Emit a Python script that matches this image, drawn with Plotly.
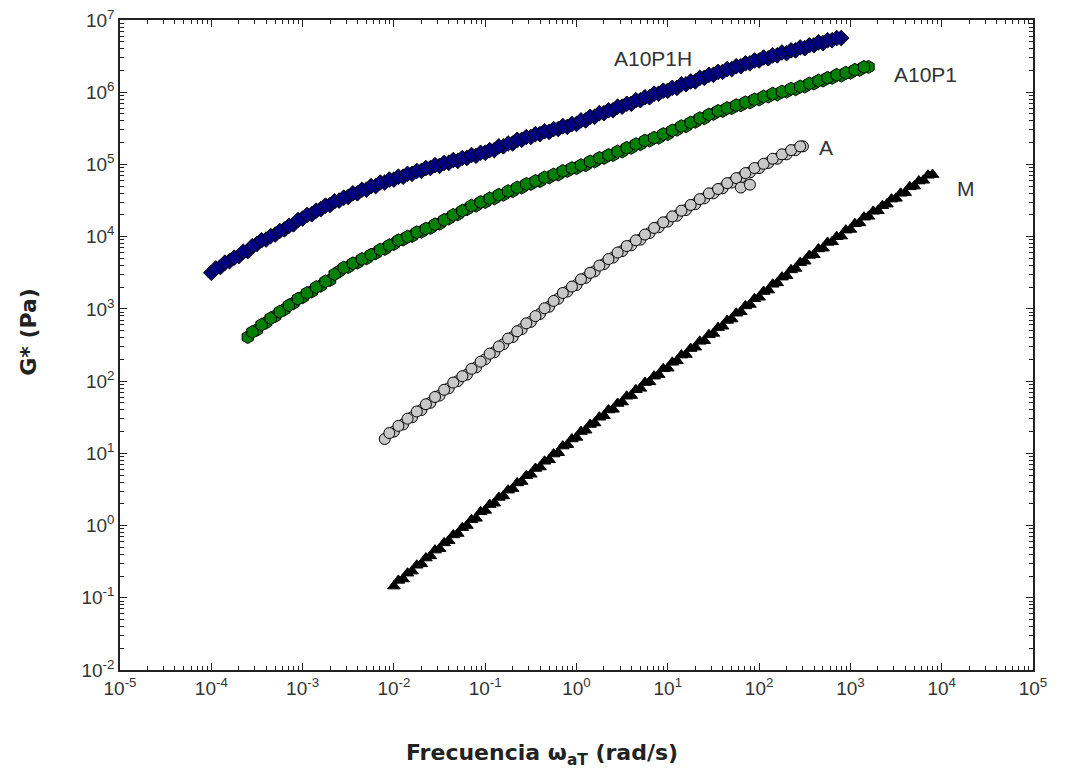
import math
import plotly.graph_objects as go

# ---------------- data ----------------
# A10P1H (blue) - two interleaved measurement runs
x_a10p1h = [1.00e-4, 1.26e-4, 1.58e-4, 2.00e-4, 2.51e-4, 3.16e-4, 3.98e-4, 5.01e-4, 6.31e-4, 7.94e-4,
            1.00e-3, 1.26e-3, 1.58e-3, 2.00e-3, 2.51e-3, 3.16e-3, 3.98e-3, 5.01e-3, 6.31e-3, 7.94e-3,
            1.00e-2, 1.26e-2, 1.58e-2, 2.00e-2, 2.51e-2, 3.16e-2, 3.98e-2, 5.01e-2, 6.31e-2, 7.94e-2,
            1.00e-1, 1.26e-1, 1.58e-1, 2.00e-1, 2.51e-1, 3.16e-1, 3.98e-1, 5.01e-1, 6.31e-1, 7.94e-1,
            1.00e0, 1.26e0, 1.58e0, 2.00e0, 2.51e0, 3.16e0, 3.98e0, 5.01e0, 6.31e0, 7.94e0,
            1.00e1, 1.26e1, 1.58e1, 2.00e1, 2.51e1, 3.16e1, 3.98e1, 5.01e1, 6.31e1, 7.94e1,
            1.00e2, 1.26e2, 1.58e2, 2.00e2, 2.51e2, 3.16e2, 3.98e2, 5.01e2, 6.31e2, 7.94e2]
g_a10p1h = [3.16e3, 3.80e3, 4.57e3, 5.37e3, 6.31e3, 7.94e3, 9.12e3, 1.07e4, 1.26e4, 1.48e4,
            1.78e4, 2.04e4, 2.40e4, 2.75e4, 3.16e4, 3.55e4, 3.98e4, 4.47e4, 5.01e4, 5.62e4,
            6.17e4, 6.76e4, 7.41e4, 8.13e4, 8.91e4, 9.55e4, 1.05e5, 1.12e5, 1.23e5, 1.32e5,
            1.45e5, 1.58e5, 1.78e5, 1.95e5, 2.19e5, 2.40e5, 2.63e5, 2.82e5, 3.09e5, 3.31e5,
            3.63e5, 4.07e5, 4.57e5, 5.13e5, 5.62e5, 6.31e5, 6.92e5, 7.76e5, 8.51e5, 9.55e5,
            1.05e6, 1.15e6, 1.29e6, 1.41e6, 1.58e6, 1.74e6, 1.91e6, 2.09e6, 2.29e6, 2.51e6,
            2.75e6, 2.95e6, 3.24e6, 3.47e6, 3.80e6, 4.07e6, 4.47e6, 4.79e6, 5.25e6, 5.62e6]
x_a10p1h_b = [1.12e-4, 1.41e-4, 1.78e-4, 2.24e-4, 2.82e-4, 3.55e-4, 4.47e-4, 5.62e-4, 7.08e-4, 8.91e-4,
              1.12e-3, 1.41e-3, 1.78e-3, 2.24e-3, 2.82e-3, 3.55e-3, 4.47e-3, 5.62e-3, 7.08e-3, 8.91e-3,
              1.12e-2, 1.41e-2, 1.78e-2, 2.24e-2, 2.82e-2, 3.55e-2, 4.47e-2, 5.62e-2, 7.08e-2, 8.91e-2,
              1.12e-1, 1.41e-1, 1.78e-1, 2.24e-1, 2.82e-1, 3.55e-1, 4.47e-1, 5.62e-1, 7.08e-1, 8.91e-1,
              1.12e0, 1.41e0, 1.78e0, 2.24e0, 2.82e0, 3.55e0, 4.47e0, 5.62e0, 7.08e0, 8.91e0,
              1.12e1, 1.41e1, 1.78e1, 2.24e1, 2.82e1, 3.55e1, 4.47e1, 5.62e1, 7.08e1, 8.91e1,
              1.12e2, 1.41e2, 1.78e2, 2.24e2, 2.82e2, 3.55e2, 4.47e2, 5.62e2, 7.08e2]
g_a10p1h_b = [3.63e3, 4.37e3, 5.13e3, 6.17e3, 7.41e3, 8.91e3, 1.02e4, 1.20e4, 1.41e4, 1.70e4,
              2.00e4, 2.29e4, 2.69e4, 3.09e4, 3.47e4, 3.98e4, 4.47e4, 5.01e4, 5.62e4, 6.17e4,
              6.76e4, 7.41e4, 8.13e4, 8.91e4, 9.77e4, 1.05e5, 1.15e5, 1.23e5, 1.35e5, 1.45e5,
              1.58e5, 1.78e5, 1.95e5, 2.19e5, 2.40e5, 2.63e5, 2.88e5, 3.09e5, 3.39e5, 3.63e5,
              4.07e5, 4.57e5, 5.13e5, 5.62e5, 6.31e5, 6.92e5, 7.76e5, 8.51e5, 9.55e5, 1.05e6,
              1.15e6, 1.29e6, 1.41e6, 1.58e6, 1.74e6, 1.91e6, 2.09e6, 2.29e6, 2.51e6, 2.75e6,
              3.02e6, 3.24e6, 3.55e6, 3.80e6, 4.17e6, 4.47e6, 4.90e6, 5.25e6, 5.62e6]

# A10P1 (green)
x_a10p1 = [2.51e-4, 3.16e-4, 3.98e-4, 5.01e-4, 6.31e-4, 7.94e-4,
           1.00e-3, 1.26e-3, 1.58e-3, 2.00e-3, 2.51e-3, 3.16e-3, 3.98e-3, 5.01e-3, 6.31e-3, 7.94e-3,
           1.00e-2, 1.26e-2, 1.58e-2, 2.00e-2, 2.51e-2, 3.16e-2, 3.98e-2, 5.01e-2, 6.31e-2, 7.94e-2,
           1.00e-1, 1.26e-1, 1.58e-1, 2.00e-1, 2.51e-1, 3.16e-1, 3.98e-1, 5.01e-1, 6.31e-1, 7.94e-1,
           1.00e0, 1.26e0, 1.58e0, 2.00e0, 2.51e0, 3.16e0, 3.98e0, 5.01e0, 6.31e0, 7.94e0,
           1.00e1, 1.26e1, 1.58e1, 2.00e1, 2.51e1, 3.16e1, 3.98e1, 5.01e1, 6.31e1, 7.94e1,
           1.00e2, 1.26e2, 1.58e2, 2.00e2, 2.51e2, 3.16e2, 3.98e2, 5.01e2, 6.31e2, 7.94e2,
           1.00e3, 1.26e3, 1.58e3]
g_a10p1 = [4.07e2, 5.13e2, 6.46e2, 7.94e2, 9.77e2, 1.20e3,
           1.45e3, 1.74e3, 2.09e3, 2.51e3, 3.31e3, 3.80e3, 4.37e3, 5.01e3, 5.89e3, 6.76e3,
           7.94e3, 9.12e3, 1.02e4, 1.17e4, 1.32e4, 1.51e4, 1.78e4, 2.04e4, 2.40e4, 2.69e4,
           3.02e4, 3.39e4, 3.80e4, 4.27e4, 4.79e4, 5.37e4, 5.89e4, 6.61e4, 7.24e4, 8.13e4,
           8.91e4, 9.77e4, 1.10e5, 1.23e5, 1.35e5, 1.51e5, 1.70e5, 1.91e5, 2.14e5, 2.34e5,
           2.63e5, 3.02e5, 3.39e5, 3.89e5, 4.37e5, 5.01e5, 5.50e5, 6.03e5, 6.61e5, 7.24e5,
           7.94e5, 8.71e5, 9.33e5, 1.02e6, 1.10e6, 1.20e6, 1.32e6, 1.45e6, 1.58e6, 1.70e6,
           1.86e6, 2.04e6, 2.24e6]
x_a10p1_b = [2.82e-4, 3.55e-4, 4.47e-4, 5.62e-4, 7.08e-4, 8.91e-4,
             1.12e-3, 1.41e-3, 1.78e-3, 2.24e-3, 2.82e-3, 3.55e-3, 4.47e-3, 5.62e-3, 7.08e-3, 8.91e-3,
             1.12e-2, 1.41e-2, 1.78e-2, 2.24e-2, 2.82e-2, 3.55e-2, 4.47e-2, 5.62e-2, 7.08e-2, 8.91e-2,
             1.12e-1, 1.41e-1, 1.78e-1, 2.24e-1, 2.82e-1, 3.55e-1, 4.47e-1, 5.62e-1, 7.08e-1, 8.91e-1,
             1.12e0, 1.41e0, 1.78e0, 2.24e0, 2.82e0, 3.55e0, 4.47e0, 5.62e0, 7.08e0, 8.91e0,
             1.12e1, 1.41e1, 1.78e1, 2.24e1, 2.82e1, 3.55e1, 4.47e1, 5.62e1, 7.08e1, 8.91e1,
             1.12e2, 1.41e2, 1.78e2, 2.24e2, 2.82e2, 3.55e2, 4.47e2, 5.62e2, 7.08e2, 8.91e2,
             1.12e3, 1.41e3]
g_a10p1_b = [4.79e2, 6.03e2, 7.41e2, 9.12e2, 1.12e3, 1.38e3,
             1.66e3, 2.00e3, 2.40e3, 3.02e3, 3.72e3, 4.27e3, 4.90e3, 5.62e3, 6.61e3, 7.59e3,
             8.91e3, 1.00e4, 1.15e4, 1.29e4, 1.48e4, 1.70e4, 2.00e4, 2.29e4, 2.69e4, 3.02e4,
             3.39e4, 3.80e4, 4.27e4, 4.79e4, 5.37e4, 5.89e4, 6.61e4, 7.24e4, 8.13e4, 8.91e4,
             9.77e4, 1.10e5, 1.23e5, 1.35e5, 1.51e5, 1.70e5, 1.91e5, 2.14e5, 2.34e5, 2.63e5,
             2.95e5, 3.39e5, 3.80e5, 4.37e5, 4.90e5, 5.50e5, 6.03e5, 6.61e5, 7.24e5, 7.94e5,
             8.71e5, 9.55e5, 1.02e6, 1.12e6, 1.20e6, 1.32e6, 1.45e6, 1.58e6, 1.74e6, 1.86e6,
             2.04e6, 2.24e6]

# A (grey)
x_a = [7.94e-3,
       1.00e-2, 1.26e-2, 1.58e-2, 2.00e-2, 2.51e-2, 3.16e-2, 3.98e-2, 5.01e-2, 6.31e-2, 7.94e-2,
       1.00e-1, 1.26e-1, 1.58e-1, 2.00e-1, 2.51e-1, 3.16e-1, 3.98e-1, 5.01e-1, 6.31e-1, 7.94e-1,
       1.00e0, 1.26e0, 1.58e0, 2.00e0, 2.51e0, 3.16e0, 3.98e0, 5.01e0, 6.31e0, 7.94e0,
       1.00e1, 1.26e1, 1.58e1, 2.00e1, 2.51e1, 3.16e1, 3.98e1, 5.01e1, 6.31e1, 7.94e1,
       1.00e2, 1.26e2, 1.58e2, 2.00e2, 2.51e2, 3.02e2]
g_a = [1.58e1,
       2.00e1, 2.51e1, 3.16e1, 3.98e1, 5.01e1, 6.31e1, 7.94e1, 1.00e2, 1.23e2, 1.55e2,
       2.00e2, 2.51e2, 3.24e2, 4.07e2, 5.25e2, 6.61e2, 8.51e2, 1.07e3, 1.38e3, 1.74e3,
       2.14e3, 2.69e3, 3.31e3, 4.17e3, 5.13e3, 6.31e3, 7.59e3, 9.12e3, 1.12e4, 1.35e4,
       1.62e4, 1.95e4, 2.34e4, 2.82e4, 3.39e4, 3.98e4, 4.68e4, 5.62e4, 6.61e4, 7.76e4,
       8.91e4, 1.05e5, 1.20e5, 1.38e5, 1.58e5, 1.78e5]
x_a_b = [8.91e-3,
         1.12e-2, 1.41e-2, 1.78e-2, 2.24e-2, 2.82e-2, 3.55e-2, 4.47e-2, 5.62e-2, 7.08e-2, 8.91e-2,
         1.12e-1, 1.41e-1, 1.78e-1, 2.24e-1, 2.82e-1, 3.55e-1, 4.47e-1, 5.62e-1, 7.08e-1, 8.91e-1,
         1.12e0, 1.41e0, 1.78e0, 2.24e0, 2.82e0, 3.55e0, 4.47e0, 5.62e0, 7.08e0, 8.91e0,
         1.12e1, 1.41e1, 1.78e1, 2.24e1, 2.82e1, 3.55e1, 4.47e1, 5.62e1, 7.08e1, 8.91e1,
         1.12e2, 1.41e2, 1.78e2, 2.24e2, 2.82e2,
         6.31e1, 7.94e1]
g_a_b = [1.91e1,
         2.40e1, 3.02e1, 3.80e1, 4.79e1, 6.03e1, 7.59e1, 9.55e1, 1.17e2, 1.48e2, 1.86e2,
         2.40e2, 3.02e2, 3.89e2, 4.90e2, 6.31e2, 7.94e2, 1.02e3, 1.29e3, 1.66e3, 2.04e3,
         2.57e3, 3.16e3, 3.98e3, 4.90e3, 6.03e3, 7.41e3, 8.91e3, 1.07e4, 1.32e4, 1.58e4,
         1.91e4, 2.29e4, 2.75e4, 3.31e4, 3.98e4, 4.57e4, 5.50e4, 6.46e4, 7.59e4, 8.91e4,
         1.02e5, 1.20e5, 1.38e5, 1.58e5, 1.78e5,
         4.79e4, 5.25e4]

# M (black)
x_m = [1.00e-2, 1.26e-2, 1.58e-2, 2.00e-2, 2.51e-2, 3.16e-2, 3.98e-2, 5.01e-2, 6.31e-2, 7.94e-2,
       1.00e-1, 1.26e-1, 1.58e-1, 2.00e-1, 2.51e-1, 3.16e-1, 3.98e-1, 5.01e-1, 6.31e-1, 7.94e-1,
       1.00e0, 1.26e0, 1.58e0, 2.00e0, 2.51e0, 3.16e0, 3.98e0, 5.01e0, 6.31e0, 7.94e0,
       1.00e1, 1.26e1, 1.58e1, 2.00e1, 2.51e1, 3.16e1, 3.98e1, 5.01e1, 6.31e1, 7.94e1,
       1.00e2, 1.26e2, 1.58e2, 2.00e2, 2.51e2, 3.16e2, 3.98e2, 5.01e2, 6.31e2, 7.94e2,
       1.00e3, 1.26e3, 1.58e3, 2.00e3, 2.51e3, 3.16e3, 3.98e3, 5.01e3, 6.31e3, 7.94e3]
g_m = [1.45e-1, 1.82e-1, 2.34e-1, 2.95e-1, 3.80e-1, 4.79e-1, 6.17e-1, 7.76e-1, 1.00e0, 1.26e0,
       1.62e0, 2.04e0, 2.57e0, 3.24e0, 4.07e0, 5.13e0, 6.46e0, 8.13e0, 1.02e1, 1.32e1,
       1.66e1, 2.09e1, 2.63e1, 3.31e1, 4.07e1, 5.13e1, 6.31e1, 7.94e1, 9.77e1, 1.23e2,
       1.51e2, 1.91e2, 2.34e2, 2.95e2, 3.63e2, 4.57e2, 5.75e2, 7.24e2, 9.12e2, 1.15e3,
       1.45e3, 1.82e3, 2.29e3, 2.88e3, 3.63e3, 4.57e3, 5.62e3, 6.92e3, 8.51e3, 1.02e4,
       1.26e4, 1.55e4, 1.91e4, 2.29e4, 2.82e4, 3.39e4, 4.07e4, 5.01e4, 6.03e4, 7.24e4]
x_m_b = [1.12e-2, 1.41e-2, 1.78e-2, 2.24e-2, 2.82e-2, 3.55e-2, 4.47e-2, 5.62e-2, 7.08e-2, 8.91e-2,
         1.12e-1, 1.41e-1, 1.78e-1, 2.24e-1, 2.82e-1, 3.55e-1, 4.47e-1, 5.62e-1, 7.08e-1, 8.91e-1,
         1.12e0, 1.41e0, 1.78e0, 2.24e0, 2.82e0, 3.55e0, 4.47e0, 5.62e0, 7.08e0, 8.91e0,
         1.12e1, 1.41e1, 1.78e1, 2.24e1, 2.82e1, 3.55e1, 4.47e1, 5.62e1, 7.08e1, 8.91e1,
         1.12e2, 1.41e2, 1.78e2, 2.24e2, 2.82e2, 3.55e2, 4.47e2, 5.62e2, 7.08e2, 8.91e2,
         1.12e3, 1.41e3, 1.78e3, 2.24e3, 2.82e3, 3.55e3, 4.47e3, 5.62e3, 7.08e3]
g_m_b = [1.74e-1, 2.19e-1, 2.82e-1, 3.55e-1, 4.57e-1, 5.75e-1, 7.41e-1, 9.33e-1, 1.20e0, 1.55e0,
         1.95e0, 2.45e0, 3.09e0, 3.89e0, 4.90e0, 6.17e0, 7.76e0, 9.77e0, 1.26e1, 1.58e1,
         2.00e1, 2.51e1, 3.16e1, 3.98e1, 4.90e1, 6.17e1, 7.59e1, 9.55e1, 1.17e2, 1.48e2,
         1.82e2, 2.29e2, 2.82e2, 3.55e2, 4.37e2, 5.50e2, 6.92e2, 8.71e2, 1.10e3, 1.38e3,
         1.74e3, 2.19e3, 2.75e3, 3.47e3, 4.37e3, 5.50e3, 6.76e3, 8.32e3, 1.00e4, 1.23e4,
         1.51e4, 1.86e4, 2.24e4, 2.69e4, 3.31e4, 3.98e4, 4.90e4, 5.89e4, 7.08e4]

x_major = [1e-5, 1e-4, 1e-3, 1e-2, 1e-1, 1e0, 1e1, 1e2, 1e3, 1e4, 1e5]
x_labels = ["10<sup>-5</sup>", "10<sup>-4</sup>", "10<sup>-3</sup>", "10<sup>-2</sup>", "10<sup>-1</sup>",
            "10<sup>0</sup>", "10<sup>1</sup>", "10<sup>2</sup>", "10<sup>3</sup>", "10<sup>4</sup>",
            "10<sup>5</sup>"]
y_major = [1e-2, 1e-1, 1e0, 1e1, 1e2, 1e3, 1e4, 1e5, 1e6, 1e7]
y_labels = ["10<sup>-2</sup>", "10<sup>-1</sup>", "10<sup>0</sup>", "10<sup>1</sup>", "10<sup>2</sup>",
            "10<sup>3</sup>", "10<sup>4</sup>", "10<sup>5</sup>", "10<sup>6</sup>", "10<sup>7</sup>"]

# series labels written next to the curves: (text, x, y)
series_labels = [("A10P1H", 6.8e0, 2.95e6), ("A10P1", 6.6e3, 1.74e6),
                 ("A", 5.4e2, 1.74e5), ("M", 1.86e4, 4.7e4)]

x_title = "<b>Frecuencia ω<sub>aT</sub> (rad/s)</b>"
y_title = "<b>G* (Pa)</b>"

# minor tick positions (2..9 x decade)
x_minor = [m * d for d in x_major[:-1] for m in range(2, 10)]
y_minor = [m * d for d in y_major[:-1] for m in range(2, 10)]

FONT = "Liberation Sans, Arial, sans-serif"
TITLE_FONT = "DejaVu Sans, Verdana, sans-serif"

fig = go.Figure()
fig.add_trace(go.Scatter(x=x_m + x_m_b, y=g_m + g_m_b, mode="markers", name="M",
                         marker=dict(symbol="triangle-up", size=11, color="black",
                                     line=dict(color="black", width=1))))
fig.add_trace(go.Scatter(x=x_a + x_a_b, y=g_a + g_a_b, mode="markers", name="A",
                         marker=dict(symbol="circle", size=11, color="#c8c8c8",
                                     line=dict(color="black", width=1))))
fig.add_trace(go.Scatter(x=x_a10p1 + x_a10p1_b, y=g_a10p1 + g_a10p1_b, mode="markers", name="A10P1",
                         marker=dict(symbol="hexagon", size=13, color="#008000",
                                     line=dict(color="black", width=1))))
fig.add_trace(go.Scatter(x=x_a10p1h + x_a10p1h_b, y=g_a10p1h + g_a10p1h_b, mode="markers", name="A10P1H",
                         marker=dict(symbol="diamond", size=12, color="#000080",
                                     line=dict(color="black", width=1))))

for txt, lx, ly in series_labels:
    fig.add_annotation(x=math.log10(lx), y=math.log10(ly), text=txt, showarrow=False,
                       xanchor="center", yanchor="middle",
                       font=dict(family=FONT, size=21, color="#333333"))

# axis titles as paper-positioned annotations
fig.add_annotation(xref="paper", yref="paper", x=0.462, y=-0.13, text=x_title, showarrow=False,
                   xanchor="center", yanchor="middle",
                   font=dict(family=TITLE_FONT, size=22, color="#222222"))
fig.add_annotation(xref="paper", yref="paper", x=-0.101, y=0.52, text=y_title, showarrow=False,
                   textangle=-90, xanchor="center", yanchor="middle",
                   font=dict(family=TITLE_FONT, size=22, color="#222222"))

axis_common = dict(type="log", showgrid=False, zeroline=False, showline=True, linecolor="#222222",
                   linewidth=1.5, mirror="ticks", ticks="inside", ticklen=7, tickcolor="#222222",
                   automargin=False, ticklabeloverflow="allow",
                   tickfont=dict(family=FONT, size=19, color="#333333"))

fig.update_xaxes(range=[-5, 5], tickvals=x_major, ticktext=x_labels,
                 minor=dict(tickvals=x_minor, ticks="inside", ticklen=4, tickcolor="#222222"),
                 **axis_common)
fig.update_yaxes(range=[-2, 7], tickvals=y_major, ticktext=y_labels,
                 minor=dict(tickvals=y_minor, ticks="inside", ticklen=4, tickcolor="#222222"),
                 **axis_common)

fig.update_layout(width=1067, height=774, showlegend=False,
                  plot_bgcolor="white", paper_bgcolor="white",
                  margin=dict(l=112, r=42, t=12, b=112))

fig.write_html("out.html")
